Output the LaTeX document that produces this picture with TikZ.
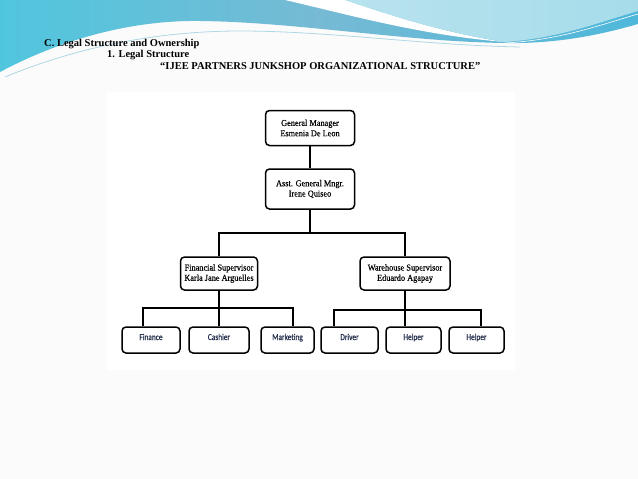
\documentclass[tikz,border=0pt]{standalone}
\usepackage{fontspec}
\setmainfont{Liberation Serif}
\newfontfamily\carl[FakeStretch=0.82,FakeBold=0.25]{Carlito}
\newfontfamily\boxserif[FakeStretch=0.92,FakeBold=0.3]{Liberation Serif}
\definecolor{bgc}{RGB}{251,251,251}
\definecolor{swA}{RGB}{80,198,222}
\definecolor{swB}{RGB}{118,186,212}
\definecolor{swC}{RGB}{78,184,218}
\definecolor{lightc}{RGB}{166,220,234}
\definecolor{faint}{RGB}{175,215,228}
\definecolor{navy}{RGB}{31,42,72}
\tikzset{
  orgbox/.style={draw, rounded corners=4pt, line width=1.5pt, align=center, inner sep=0pt,
    font=\boxserif\fontsize{9}{10.3}\selectfont},
  leafbox/.style={orgbox, minimum height=26pt, text=navy, text height=6pt, text depth=6pt,
    font=\carl\fontsize{9}{9}\selectfont},
  conn/.style={line width=1.5pt},
  hdr/.style={anchor=base west, inner sep=0pt, font=\bfseries\fontsize{10.5}{12}\selectfont}
}
\begin{document}
\begin{tikzpicture}[x=1pt,y=-1pt]
\useasboundingbox (0,0) rectangle (638,479);
\fill[bgc] (0,0) rectangle (638,479);
\fill[white] (107,92) rectangle (515,370);
% swoosh
\shade[left color=swA, right color=swC, middle color=swB]
  (0,0) -- (638,0) -- (638,24) .. controls (610,32) and (570,42) .. (520,43)
  .. controls (420,44) and (300,22) .. (200,21)
  .. controls (130,20) and (60,40) .. (0,72) -- cycle;
\fill[white] (285,0) .. controls (350,15) and (420,35) .. (505,42)
  .. controls (440,32) and (390,15) .. (345,0) -- cycle;
\shade[left color=lightc!80!white, right color=lightc]
  (345,0) .. controls (390,15) and (440,32) .. (505,42)
  .. controls (560,38) and (600,22) .. (638,11) -- (638,0) -- cycle;
\draw[white, line width=0.6pt] (505,43) .. controls (560,40) and (600,25) .. (638,14);
\draw[faint, line width=0.8pt] (5,77) .. controls (80,46) and (160,31) .. (240,31)
  .. controls (330,31) and (420,45) .. (520,47);
% header texts
\node[hdr] (h1) at (44,46.5) {C. Legal Structure and Ownership};
\node[hdr] (h2) at (107,57.5) {1. Legal Structure};
\node[hdr] (h3) at (160,69) {``IJEE PARTNERS JUNKSHOP ORGANIZATIONAL STRUCTURE''};
% org chart
\node[orgbox, minimum width=89pt, minimum height=35pt] (gm) at (310,128) {General Manager\\Esmenia De Leon};
\node[orgbox, minimum width=89pt, minimum height=40pt] (agm) at (310,189) {Asst. General Mngr.\\Irene Quiseo};
\node[orgbox, minimum width=77pt, minimum height=33pt] (fs) at (219,273.5) {Financial Supervisor\\Karla Jane Arguelles};
\node[orgbox, minimum width=90pt, minimum height=33pt] (ws) at (405,273.5) {Warehouse Supervisor\\Eduardo Agapay};
\node[leafbox, minimum width=58pt] (finance) at (151,340) {Finance};
\node[leafbox, minimum width=60pt] (cashier) at (219,340) {Cashier};
\node[leafbox, minimum width=53pt] (marketing) at (287.5,340) {Marketing};
\node[leafbox, minimum width=57pt] (driver) at (349.5,340) {Driver};
\node[leafbox, minimum width=55pt] (helper1) at (413.5,340) {Helper};
\node[leafbox, minimum width=55pt] (helper2) at (476.5,340) {Helper};
\coordinate (topL) at (219,233);
\coordinate (topR) at (405,233);
\coordinate (lL) at (143,308);
\coordinate (lR) at (293,308);
\coordinate (rL) at (334,310);
\coordinate (rR) at (481,310);
\draw[conn] (gm) -- (agm);
\draw[conn] (agm.south) -- (agm.south |- topL);
\draw[conn] (fs.north) -- (topL) -- (topR) -- (ws.north);
\draw[conn] (fs.south) -- (fs.south |- cashier.north);
\draw[conn] (lL |- finance.north) -- (lL) -- (lR) -- (lR |- marketing.north);
\draw[conn] (ws.south) -- (ws.south |- helper1.north);
\draw[conn] (rL |- driver.north) -- (rL) -- (rR) -- (rR |- helper2.north);
\end{tikzpicture}
\end{document}
